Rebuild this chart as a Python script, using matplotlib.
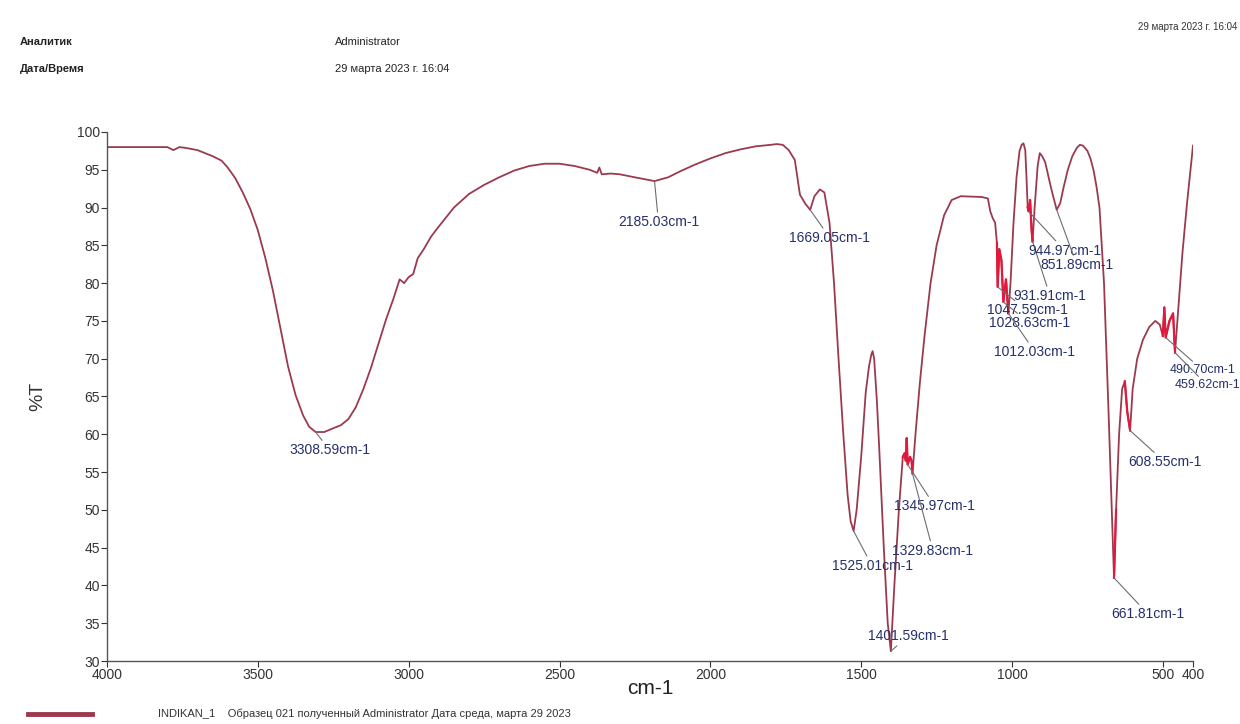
import matplotlib.pyplot as plt
import numpy as np

plt.rcParams['font.family'] = ['Liberation Sans', 'DejaVu Sans']

# спектр пропускания, считанный по точкам
wavenumber = [4000, 3900, 3800, 3780, 3760, 3740, 3700, 3650, 3620, 3600, 3575, 3550,
              3525, 3500, 3475, 3450, 3425, 3400, 3375, 3350, 3330, 3308.59, 3280, 3250,
              3225, 3200, 3175, 3150, 3125, 3100, 3075, 3050, 3030, 3015, 3000, 2985,
              2970, 2950, 2925, 2900, 2850, 2800, 2750, 2700, 2650, 2600, 2550, 2500,
              2450, 2400, 2375, 2368, 2360, 2330, 2300, 2250, 2185.03, 2140, 2100, 2050,
              2000, 1950, 1900, 1850, 1800, 1780, 1760, 1740, 1720, 1703, 1685, 1669.05,
              1655, 1637, 1622, 1605, 1590, 1575, 1560, 1545, 1535, 1525.01, 1515, 1500,
              1485, 1474, 1466, 1462, 1457, 1448, 1440, 1425, 1412, 1401.59, 1390, 1375,
              1362, 1356, 1352, 1349, 1345.97, 1338, 1333, 1329.83, 1320, 1305, 1290,
              1270, 1250, 1225, 1200, 1170, 1100, 1080, 1072, 1064, 1056, 1050, 1047.59,
              1042, 1035, 1028.63, 1020, 1012.03, 1005, 995, 985, 975, 968, 962, 956,
              952, 948, 944.97, 940, 935, 931.91, 925, 915, 908, 900, 890, 870, 851.89,
              840, 830, 815, 800, 785, 775, 765, 750, 740, 730, 720, 710, 695, 680,
              661.81, 655, 645, 635, 626, 618, 608.55, 600, 585, 566, 545, 525, 510, 500,
              495, 490.70, 478, 466, 459.62, 450, 435, 420, 400]
transmittance = [98.0, 98.0, 98.0, 97.6, 98.0, 97.9, 97.6, 96.8, 96.2, 95.3, 93.9, 92.0,
                 89.8, 87.0, 83.3, 79.0, 74.0, 69.0, 65.2, 62.5, 61.0, 60.3, 60.3, 60.8,
                 61.2, 62.0, 63.6, 66.0, 68.8, 72.0, 75.2, 78.0, 80.5, 80.0, 80.8, 81.2,
                 83.3, 84.5, 86.2, 87.5, 90.0, 91.8, 93.0, 94.0, 94.9, 95.5, 95.8, 95.8,
                 95.5, 95.0, 94.6, 95.3, 94.4, 94.5, 94.4, 94.0, 93.5, 94.0, 94.8, 95.7,
                 96.5, 97.2, 97.7, 98.1, 98.3, 98.4, 98.3, 97.6, 96.3, 91.7, 90.5, 89.7,
                 91.5, 92.4, 92.0, 88.0, 80.0, 70.0, 60.5, 52.0, 48.5, 47.2, 50.0, 57.0,
                 65.5, 69.0, 70.6, 71.0, 70.0, 64.5, 58.0, 45.0, 35.0, 31.3, 40.0, 50.0,
                 57.0, 57.5, 56.5, 59.5, 56.0, 57.0, 56.5, 54.8, 60.0, 67.0, 73.0,
                 80.0, 85.0, 89.0, 91.0, 91.5, 91.4, 91.2, 89.5, 88.6, 88.0, 85.3, 79.5,
                 84.5, 83.0, 77.5, 80.5, 76.0, 80.0, 88.0, 94.0, 97.5, 98.3, 98.5, 97.6,
                 94.0, 90.0, 89.5, 91.0, 87.0, 85.5, 90.0, 95.5, 97.2, 96.8, 96.0, 92.5, 89.7,
                 90.6, 92.5, 95.0, 96.8, 97.9, 98.3, 98.2, 97.5, 96.5, 95.0, 92.8, 90.0, 80.0,
                 63.0, 41.0, 50.0, 60.0, 66.0, 67.0, 63.0, 60.5, 66.0, 70.0, 72.5, 74.2,
                 75.0, 74.5, 73.0, 76.8, 72.8, 75.0, 76.0, 70.8, 76.0, 84.0, 90.5, 98.2]

# подписи пиков: положение, место текста
peak_pos = [3308.59, 2185.03, 1669.05, 1525.01, 1401.59, 1345.97, 1329.83, 1047.59,
            1028.63, 1012.03, 931.91, 944.97, 851.89, 490.70, 459.62, 608.55, 661.81]
peak_text_x = [3262, 2172, 1604, 1464, 1345, 1256, 1262, 950, 941, 924, 874, 825, 785,
               478, 462, 493, 549]
peak_text_y = [57.9, 88.1, 86.0, 42.6, 33.3, 50.5, 44.6, 76.4, 74.7, 70.9, 78.3, 84.3,
               82.4, 68.5, 66.5, 56.3, 36.2]
left_aligned = [490.70, 459.62]

# участки кривой, отмеченные красным
red_ranges = [(1530, 1520), (1405, 1398), (1362, 1329), (1052, 1010), (948, 930),
              (668, 655), (628, 606), (500, 458)]

x_ticks = [4000, 3500, 3000, 2500, 2000, 1500, 1000, 500, 400]
y_ticks = list(range(30, 101, 5))

wn = np.array(wavenumber)
tr = np.array(transmittance)
curve_color = '#9b3a4e'
label_color = '#25306a'

fig = plt.figure(figsize=(12.4, 7.24), dpi=100)
ax = fig.add_axes([0.0863, 0.087, 0.8758, 0.7307])

ax.plot(wn, tr, color=curve_color, lw=1.3)
for hi, lo in red_ranges:
    m = (wn <= hi) & (wn >= lo)
    ax.plot(wn[m], tr[m], color='#e3183b', lw=1.6)

for p, tx, ty in zip(peak_pos, peak_text_x, peak_text_y):
    t = tr[np.argmin(np.abs(wn - p))]
    ha = 'left' if p in left_aligned else 'center'
    fs = 9 if p in left_aligned else 10
    ax.annotate('%.2fcm-1' % p, xy=(p, t), xytext=(tx, ty), ha=ha, va='center',
                fontsize=fs, color=label_color, annotation_clip=False,
                arrowprops=dict(arrowstyle='-', color='#6e6e6e', lw=0.8,
                                shrinkA=0, shrinkB=0))

ax.set_xlim(4000, 400)
ax.set_ylim(30, 100)
ax.set_xticks(x_ticks)
ax.set_xticklabels([str(v) for v in x_ticks])
ax.set_yticks(y_ticks)
ax.tick_params(labelsize=10, colors='#333333', length=4, width=0.8, pad=1)
for s in ['top', 'right']:
    ax.spines[s].set_visible(False)
for s in ['left', 'bottom']:
    ax.spines[s].set_color('#555555')
    ax.spines[s].set_linewidth(1.0)
ax.set_xlabel('cm-1', fontsize=15, color='#222222', labelpad=-2)
ax.set_ylabel('%T', fontsize=14, color='#333333', labelpad=22)

# шапка отчёта
fig.text(20 / 1240, 1 - 42 / 724, 'Аналитик', fontsize=8, color='#222222',
         fontweight='bold', va='center')
fig.text(20 / 1240, 1 - 69 / 724, 'Дата/Время', fontsize=8, color='#222222',
         fontweight='bold', va='center')
fig.text(335 / 1240, 1 - 42 / 724, 'Administrator', fontsize=8, color='#222222', va='center')
fig.text(335 / 1240, 1 - 69 / 724, '29 марта 2023 г. 16:04', fontsize=8, color='#222222',
         va='center')
fig.text(1237 / 1240, 1 - 27 / 724, '29 марта 2023 г. 16:04', fontsize=7, color='#333333',
         va='center', ha='right')

# легенда внизу
fig.add_artist(plt.Line2D([28 / 1240, 92 / 1240], [1 - 714 / 724, 1 - 714 / 724],
                          color=curve_color, lw=3.5))
fig.text(158 / 1240, 1 - 714 / 724,
         'INDIKAN_1    Образец 021 полученный Administrator Дата среда, марта 29 2023',
         fontsize=8, color='#333333', va='center')

fig.savefig('out.png', dpi=100)
